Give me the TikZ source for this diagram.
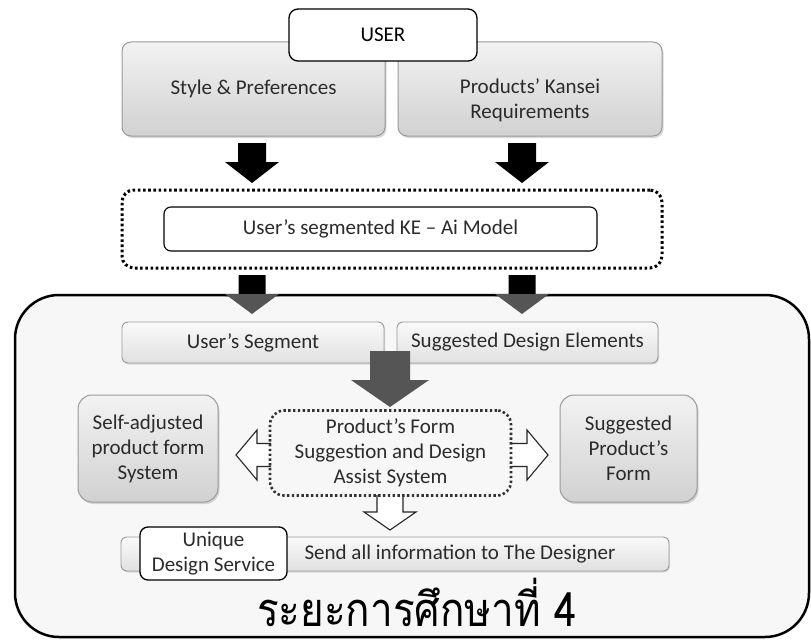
\documentclass[tikz,border=0pt]{standalone}
\usepackage{fontspec}
\setmainfont{Carlito}
\newfontfamily\thaifont[Script=Thai]{Loma}
\usetikzlibrary{shadows}
\definecolor{boxedge}{HTML}{9A9A9A}
\definecolor{txt}{HTML}{2B2B2B}
\definecolor{arrgray}{HTML}{555555}
\definecolor{contfill}{HTML}{F7F7F7}
\tikzset{
 base/.style={rectangle, rounded corners=9pt, align=center, font=\fontsize{21}{25}\selectfont, text=txt, inner sep=0pt},
 graybox/.style={base, draw=boxedge, line width=1pt, top color=gray!10, bottom color=gray!36,
   drop shadow={opacity=0.3, shadow xshift=1.5pt, shadow yshift=-2pt}},
 lightbox/.style={base, draw=boxedge, line width=0.9pt, rounded corners=6pt, top color=gray!4, bottom color=gray!24,
   drop shadow={opacity=0.25, shadow xshift=1pt, shadow yshift=-1.5pt}},
 whitebox/.style={base, draw=black, line width=1.3pt, fill=white, text=black},
 dotbox/.style={base, draw=black, line width=3pt, dash pattern=on 2.6pt off 2.6pt, rounded corners=12pt},
 dotbox2/.style={base, draw=black!80, line width=2.6pt, dash pattern=on 2.4pt off 2.4pt, rounded corners=14pt},
 container/.style={draw=black, line width=2.5pt, fill=contfill, rounded corners=44pt},
 solidarrow/.style={fill=black, draw=none},
 grayarrow/.style={fill=arrgray, draw=none},
 hollowfill/.style={fill=white, draw=none},
 hollowline/.style={draw=black!85, line width=1.1pt, line join=miter},
}
% style, cx, top, headstart, tip, shaft width, head width
\newcommand\blkdown[7]{%
 \path[#1] ({#2-#6/2},#3) -- ({#2+#6/2},#3) -- ({#2+#6/2},#4) -- ({#2+#7/2},#4) -- (#2,#5) -- ({#2-#7/2},#4) -- ({#2-#6/2},#4) -- cycle;}
% open hollow down arrow
\newcommand\hollowdown[6]{%
 \path[hollowfill] ({#1-#5/2},#2) -- ({#1+#5/2},#2) -- ({#1+#5/2},#3) -- ({#1+#6/2},#3) -- (#1,#4) -- ({#1-#6/2},#3) -- ({#1-#5/2},#3) -- cycle;
 \path[hollowline] ({#1+#5/2},#2) -- ({#1+#5/2},#3) -- ({#1+#6/2},#3) -- (#1,#4) -- ({#1-#6/2},#3) -- ({#1-#5/2},#3) -- ({#1-#5/2},#2);}
% open hollow horizontal arrow: cy, start, headstart, tip, shaft w, head w
\newcommand\hollowhoriz[6]{%
 \path[hollowfill] (#2,{#1-#5/2}) -- (#3,{#1-#5/2}) -- (#3,{#1-#6/2}) -- (#4,#1) -- (#3,{#1+#6/2}) -- (#3,{#1+#5/2}) -- (#2,{#1+#5/2}) -- cycle;
 \path[hollowline] (#2,{#1-#5/2}) -- (#3,{#1-#5/2}) -- (#3,{#1-#6/2}) -- (#4,#1) -- (#3,{#1+#6/2}) -- (#3,{#1+#5/2}) -- (#2,{#1+#5/2});}

\begin{document}
\begin{tikzpicture}[x=1pt,y=-1pt]
\useasboundingbox (0,0) rectangle (811,642);

% top level
\node[graybox, minimum width=263pt, minimum height=94pt] (style) at (253.5,89) {Style \& Preferences};
\node[graybox, minimum width=264pt, minimum height=94pt] (kansei) at (530,89) {\strut\\[-6pt]Products' Kansei\\Requirements};
\node[whitebox, minimum width=188pt, minimum height=52pt] (user) at (383,35) {USER};

\blkdown{solidarrow}{252}{143}{162}{183}{28}{54}
\blkdown{solidarrow}{522}{143}{162}{183}{28}{54}

\node[dotbox, minimum width=540pt, minimum height=78pt] (kewrap) at (392,229) {};
\node[whitebox, line width=1.1pt, rounded corners=7pt, minimum width=433pt, minimum height=44pt, text=txt] (ke) at (380.5,229) {User’s segmented KE – Ai Model};

% container
\path[container] (15,295) rectangle (809,637);

\blkdown{solidarrow}{252}{275}{296}{296}{27}{54}
\blkdown{grayarrow}{252}{294}{294}{314}{27}{54}
\blkdown{solidarrow}{522}{275}{296}{296}{27}{54}
\blkdown{grayarrow}{522}{294}{294}{314}{27}{54}

\node[lightbox, minimum width=262pt, minimum height=41pt] (seg) at (253,342.5) {User’s Segment};
\node[lightbox, minimum width=261pt, minimum height=41pt] (sde) at (527.5,342.5) {Suggested Design Elements};

\blkdown{grayarrow}{390}{351}{380}{407}{40}{78}

\node[graybox, rounded corners=14pt, minimum width=140pt, minimum height=107pt] (self) at (148,448.5) {Self-adjusted\\product form\\System};
\node[graybox, rounded corners=14pt, minimum width=137pt, minimum height=107pt] (spf) at (628.5,448.5) {Suggested\\Product’s\\Form};

\hollowhoriz{455}{271}{257}{236}{23}{50}
\hollowhoriz{455}{510}{527}{548}{23}{50}
\hollowdown{390}{495}{512}{530}{26}{52}

\node[dotbox2, minimum width=241pt, minimum height=85pt] (pfs) at (390.5,453) {Product’s Form\\Suggestion and Design\\Assist System};

\node[lightbox, minimum width=548pt, minimum height=34pt] (send) at (395,554) {};
\node[font=\fontsize{21}{25}\selectfont, text=txt, inner sep=0pt] (sendtxt) at (460,554) {Send all information to The Designer};
\node[whitebox, line width=1.3pt, rounded corners=8pt, minimum width=147pt, minimum height=53pt, text=txt] (unique) at (213.5,553.5) {Unique\\Design Service};

\node[font=\thaifont\fontsize{47}{54}\selectfont, text=black, inner sep=0pt, anchor=base, xscale=0.86, transform shape] (phase) at (417,626) {ระยะการศึกษาที่ 4};
\end{tikzpicture}
\end{document}
